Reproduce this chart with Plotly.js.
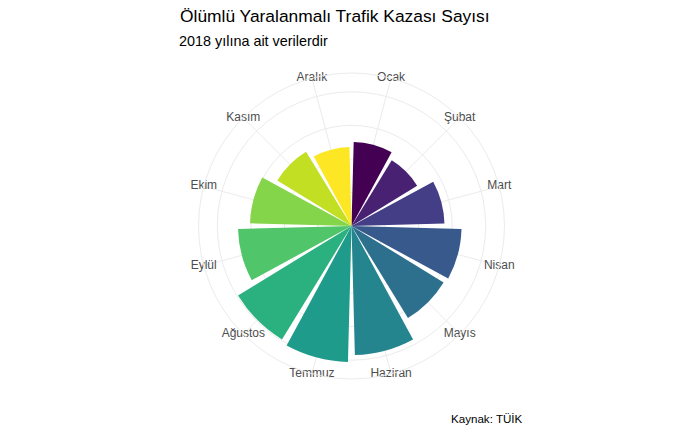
<!DOCTYPE html>
<html>
<head>
<meta charset="utf-8">
<script src="https://cdn.plot.ly/plotly-3.0.1.min.js"></script>
<style>html,body{margin:0;padding:0;background:#fff;}#chart{width:700px;height:432px;}</style>
</head>
<body>
<div id="chart"></div>
<script>
// Data (2018, ölümlü yaralanmalı trafik kazası sayısı)
const months = ["Ocak","Şubat","Mart","Nisan","Mayıs","Haziran","Temmuz","Ağustos","Eylül","Ekim","Kasım","Aralık"];
const accidents = [12520, 11480, 13860, 16400, 16100, 19230, 20270, 19830, 16920, 15130, 12970, 11780];
const colors = ["#440154","#482173","#433E85","#38598C","#2D708E","#25858E","#1E9B8A","#2BB07F","#51C56A","#85D54A","#C2DF23","#FDE725"];
const radialBreaks = [5000, 10000, 15000, 20000];

const step = 360 / months.length;
const theta = months.map((m, i) => step / 2 + i * step);
const maxVal = Math.max(...accidents);
const rOuter = maxVal / 0.4 * 0.45;

const bars = {
  type: "barpolar",
  r: accidents,
  theta: theta,
  width: months.map(() => step * 0.9),
  marker: {color: colors, line: {width: 0}},
  hoverinfo: "skip",
  showlegend: false
};
const labels = {
  type: "scatterpolar",
  mode: "text",
  r: months.map(() => rOuter),
  theta: theta,
  text: months,
  textposition: "middle center",
  textfont: {family: "Liberation Sans, Arial, sans-serif", size: 12, color: "#4D4D4D"},
  cliponaxis: false,
  hoverinfo: "skip",
  showlegend: false
};

const layout = {
  width: 700, height: 432,
  margin: {l: 0, r: 0, t: 0, b: 0},
  paper_bgcolor: "#ffffff",
  font: {family: "Liberation Sans, Arial, sans-serif"},
  showlegend: false,
  title: {
    text: "Ölümlü Yaralanmalı Trafik Kazası Sayısı",
    x: 180 / 700, xanchor: "left", xref: "paper",
    y: 1 - 16 / 432, yanchor: "middle", yref: "paper",
    font: {size: 17.4, color: "#000000", family: "Liberation Sans, Arial, sans-serif"}
  },
  annotations: [
    {text: "2018 yılına ait verilerdir", xref: "paper", yref: "paper",
     x: 177 / 700, xanchor: "left", y: 1 - 41 / 432, yanchor: "middle",
     showarrow: false, font: {size: 14.4, color: "#000000"}},
    {text: "Kaynak: TÜİK", xref: "paper", yref: "paper",
     x: 525 / 700, xanchor: "right", y: 1 - 418 / 432, yanchor: "middle",
     showarrow: false, font: {size: 11.6, color: "#000000"}}
  ],
  polar: {
    domain: {x: [(351.5 - 153) / 700, (351.5 + 153) / 700], y: [(206 - 153) / 432, (206 + 153) / 432]},
    bgcolor: "#ffffff",
    bargap: 0,
    radialaxis: {
      range: [0, rOuter],
      tickvals: radialBreaks,
      showticklabels: false,
      ticks: "",
      showline: false,
      gridcolor: "#EBEBEB",
      gridwidth: 1
    },
    angularaxis: {
      rotation: 90,
      direction: "clockwise",
      thetaunit: "degrees",
      tickvals: theta,
      showticklabels: false,
      ticks: "",
      showline: true,
      linecolor: "#EBEBEB",
      linewidth: 1,
      gridcolor: "#EBEBEB",
      gridwidth: 1
    }
  }
};

Plotly.newPlot("chart", [bars, labels], layout, {displayModeBar: false, staticPlot: true});
</script>
</body>
</html>
